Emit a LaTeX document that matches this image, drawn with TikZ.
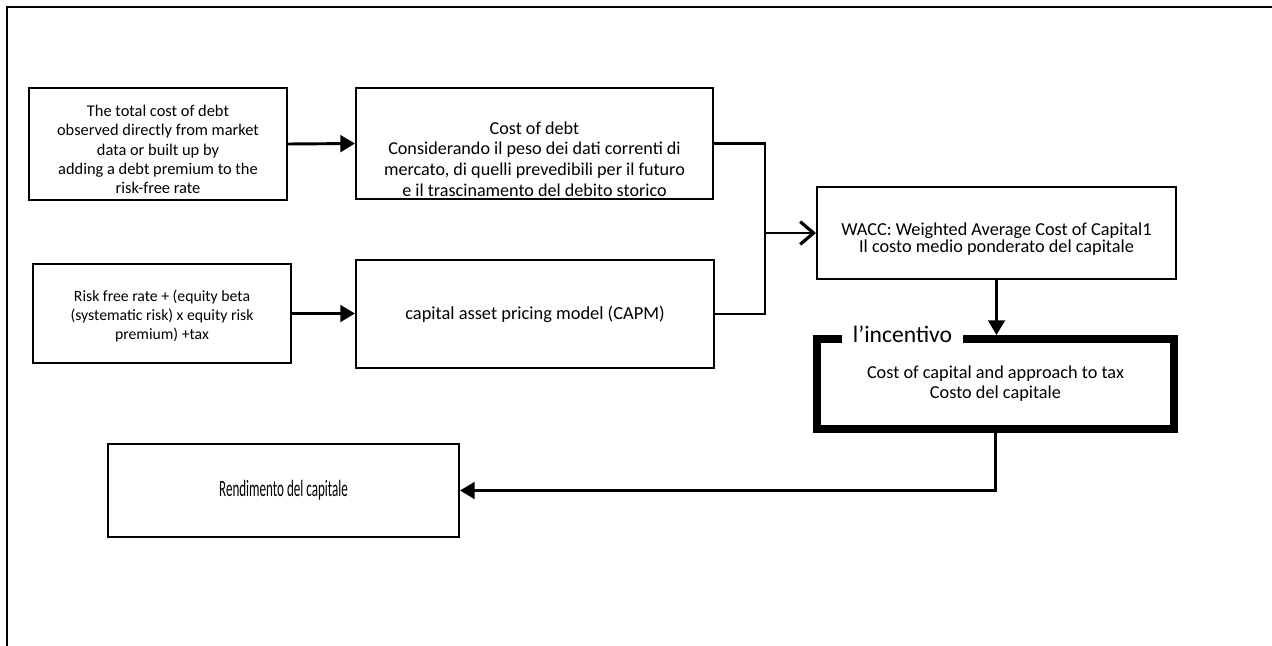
\documentclass[tikz,border=0pt]{standalone}
\usepackage{fontspec}
\setmainfont{Carlito}
\usetikzlibrary{arrows.meta}
\tikzset{
  box/.style={draw, line width=1.5pt, inner sep=0pt, align=center},
  thickbox/.style={draw, line width=6pt, inner sep=0pt, align=center},
  conn/.style={line width=2.2pt},
  fillarrow/.style={conn, -{Triangle[length=11pt,width=12.5pt]}},
  openarrow/.style={conn, -{Straight Barb[length=10pt,width=17pt,line width=2.4pt]}},
  frame/.style={line width=1.6pt},
}
\begin{document}
\begin{tikzpicture}[x=0.75pt,y=-0.75pt]
\useasboundingbox (0,0) rectangle (1272,646);
\draw[frame] (7,646) -- (7,7) -- (1272,7);

% boxes
\node[box, minimum width=193.5pt, minimum height=84pt] (A) at (158,144) {};
\begin{scope}
  \clip (29,88) rectangle (287,193);
  \node[align=center, font=\fontsize{12.3pt}{14.6pt}\selectfont, anchor=north] (At) at (158,100)
  {The total cost of debt\\observed directly from market\\data or built up by\\adding a debt premium to the\\risk-free rate};
\end{scope}

\node[box, minimum width=267.75pt, minimum height=83.25pt] (B) at (534.5,143.5) {};
\node[align=center, font=\fontsize{13.6pt}{15.5pt}\selectfont] (Bt) at (534.5,159)
  {Cost of debt\\Considerando il peso dei dati correnti di\\mercato, di quelli prevedibili per il futuro\\e il trascinamento del debito storico};

\node[box, minimum width=193.5pt, minimum height=74.25pt] (C) at (162,313.5) {};
\node[align=center, font=\fontsize{11.8pt}{14pt}\selectfont] (Ct) at (162,316)
  {Risk free rate + (equity beta\\(systematic risk) x equity risk\\premium) +tax};

\node[box, minimum width=268.5pt, minimum height=81pt, font=\fontsize{13.8pt}{16pt}\selectfont] (D) at (535,314)
  {capital asset pricing model (CAPM)};

\node[box, minimum width=269.25pt, minimum height=69pt] (W) at (996.5,233) {};
\node[align=center, font=\fontsize{13.7pt}{13pt}\selectfont] (Wt) at (996.5,239)
  {WACC: Weighted Average Cost of Capital1\\Il costo medio ponderato del capitale};

\node[thickbox, minimum width=267.75pt, minimum height=67.5pt, font=\fontsize{13.7pt}{15pt}\selectfont] (T) at (995.5,384)
  {Cost of capital and approach to tax\\Costo del capitale};
\node[fill=white, inner xsep=0pt, inner ysep=2pt, minimum width=90.75pt, anchor=base, font=\fontsize{17.7pt}{20pt}\selectfont] (L) at (902.5,342) {l’incentivo};

\node[box, minimum width=263.25pt, minimum height=69.75pt] (R) at (283.5,490.5)
  {\fontsize{17.5pt}{20pt}\selectfont\scalebox{0.56}[1]{Rendimento del capitale}};

% connectors
\coordinate (J) at (765,233);
\draw[fillarrow] (A.east) -- (B.west);
\draw[fillarrow] (C.east) -- (C.east -| D.west);
\draw[conn] (B.east) -| (J);
\draw[conn] (D.east) -| (J);
\draw[openarrow] (J) -- (W.west);
\draw[fillarrow] (W.south) -- (W.south |- T.north);
\draw[fillarrow] (T.south) |- (R.east);
\end{tikzpicture}
\end{document}
